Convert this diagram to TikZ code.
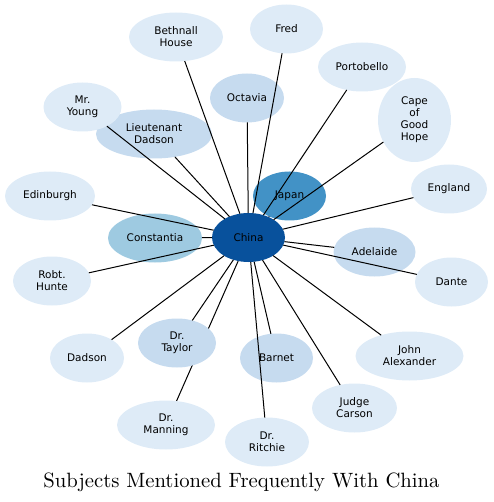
\documentclass[tikz,border=0pt]{standalone}
\usepackage{fontspec}
\newfontfamily\labelfont{DejaVu Sans}
\newfontfamily\titlefont{lmroman10-regular}[Extension=.otf]
\usetikzlibrary{shapes.geometric, backgrounds}
\definecolor{bluedark}{HTML}{08519C}
\definecolor{bluestrong}{HTML}{4292C6}
\definecolor{bluemid}{HTML}{9ECAE1}
\definecolor{bluesoft}{HTML}{C6DBEF}
\definecolor{bluepale}{HTML}{DEEBF7}

\begin{document}
\begin{tikzpicture}[
    x=1pt, y=-1pt,
    subj/.style={ellipse, draw=none, fill=bluepale, inner sep=0pt, outer sep=0pt,
                 minimum width=#1, minimum height=49pt, align=center,
                 font=\labelfont\fontsize{10.5}{12}\selectfont},
    subj/.default=74pt,
    link/.style={draw=black, line width=1pt}
]
\useasboundingbox (0,0) rectangle (493,502);

% hub and strongest links
\node[subj=73pt, fill=bluedark] (china) at (248.5,237.5) {China};
\node[subj=73pt, fill=bluestrong] (japan) at (289.5,196) {Japan};
\node[subj=94pt, fill=bluemid] (constantia) at (155,238) {Constantia};
\node[subj=82pt, fill=bluesoft] (adelaide) at (374.5,252) {Adelaide};
\node[subj=74pt, fill=bluesoft] (octavia) at (247,98) {Octavia};
\node[subj=116pt, fill=bluesoft] (ltdadson) at (154,134) {Lieutenant\\Dadson};
\node[subj=73pt, fill=bluesoft] (barnet) at (276.5,358) {Barnet};

% rarer subjects
\node[subj=94pt] (bethnall) at (176,37) {Bethnall\\House};
\node[subj=73pt] (fred) at (286.5,29) {Fred};
\node[subj=88pt] (portobello) at (362,67) {Portobello};
\node[subj=73pt, minimum height=84pt] (cape) at (414.5,120) {Cape\\of\\Good\\Hope};
\node[subj=76pt] (england) at (449,189) {England};
\node[subj=78pt] (young) at (82.5,107) {Mr.\\Young};
\node[subj=90pt] (edinburgh) at (50,196) {Edinburgh};
\node[subj=78pt] (hunte) at (52,281) {Robt.\\Hunte};
\node[subj=74pt] (dadson) at (87,358) {Dadson};
\node[subj=98pt] (manning) at (166,425) {Dr.\\Manning};
\node[subj=84pt] (ritchie) at (267,442) {Dr.\\Ritchie};
\node[subj=85pt] (carson) at (354.5,408) {Judge\\Carson};
\node[subj=108pt] (alexander) at (409.5,356) {John\\Alexander};
\node[subj=73pt] (dante) at (451.5,282) {Dante};

% this one runs under Dr. Taylor
\begin{scope}[on background layer]
\draw[link] (china) -- (manning);
\end{scope}
\node[subj=78pt, fill=bluesoft] (taylor) at (177,343) {Dr.\\Taylor};

\foreach \other in {japan, constantia, adelaide, octavia, ltdadson, barnet,
                    bethnall, fred, portobello, cape, england, young, edinburgh,
                    hunte, dadson, ritchie, carson, alexander, dante, taylor}
    \draw[link] (china) -- (\other);

\node[font=\titlefont\fontsize{20.7}{24}\selectfont, anchor=base] (title) at (241.5,487)
    {Subjects Mentioned Frequently With China};
\end{tikzpicture}
\end{document}
